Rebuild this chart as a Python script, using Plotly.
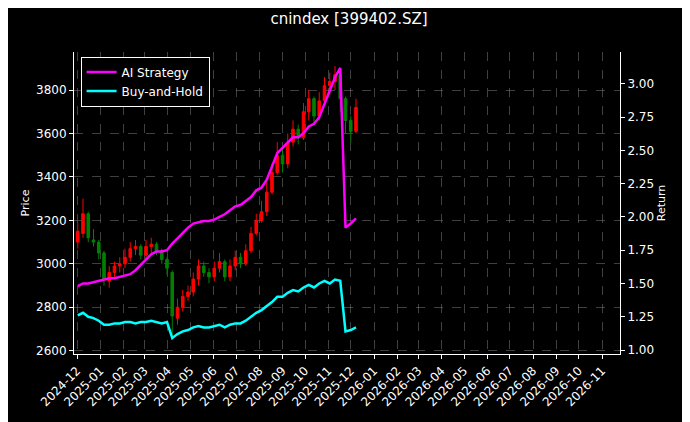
import pandas as pd
import plotly.graph_objects as go

# Weekly bars
dates = pd.date_range("2024-12-02", "2025-12-08", freq="7D")

close = [3150, 3230, 3120, 3100, 3050,
         2930, 2960, 2990, 3000,
         3030, 3070, 3080, 3040,
         3080, 3090, 3060, 3020, 2980,
         2760, 2800, 2850, 2870,
         2930, 2990, 2960, 2940,
         2980, 3010, 2940, 2990, 3030,
         3000, 3060, 3140, 3200,
         3240, 3330, 3420, 3500,
         3460, 3560, 3620, 3580, 3700,
         3760, 3680, 3750, 3820,
         3840, 3870, 3760, 3660,
         3610, 3720]
open_ = [3100, 3140, 3230, 3110, 3100,
         3050, 2920, 2960, 2990,
         3000, 3030, 3070, 3080,
         3040, 3080, 3090, 3060, 3020,
         2960, 2750, 2800, 2850,
         2870, 2930, 2990, 2960,
         2940, 2980, 3010, 2940, 2990,
         3030, 3000, 3060, 3140,
         3200, 3240, 3330, 3420,
         3500, 3460, 3560, 3620, 3580,
         3700, 3760, 3680, 3750,
         3820, 3840, 3870, 3760,
         3660, 3610]
high = [3190, 3300, 3240, 3160, 3110,
        3060, 2990, 3010, 3030,
        3070, 3100, 3110, 3090,
        3110, 3120, 3100, 3070, 3030,
        2970, 2840, 2880, 2900,
        2960, 3020, 3010, 2980,
        3010, 3050, 3020, 3020, 3060,
        3050, 3090, 3170, 3230,
        3290, 3380, 3460, 3560,
        3530, 3600, 3660, 3640, 3740,
        3800, 3770, 3790, 3860,
        3880, 3910, 3880, 3770,
        3680, 3760]
low = [3070, 3120, 3100, 3080, 3020,
       2900, 2890, 2940, 2960,
       2980, 3010, 3040, 3020,
       3020, 3050, 3040, 3000, 2950,
       2650, 2720, 2780, 2830,
       2850, 2900, 2940, 2910,
       2920, 2960, 2920, 2920, 2970,
       2980, 2990, 3050, 3130,
       3190, 3220, 3320, 3410,
       3420, 3440, 3540, 3550, 3570,
       3660, 3650, 3660, 3730,
       3780, 3800, 3700, 3600,
       3560, 3600]

ai_return = [1.48, 1.50, 1.50, 1.51, 1.52,
             1.53, 1.54, 1.54, 1.55,
             1.56, 1.57, 1.60, 1.64,
             1.68, 1.72, 1.74, 1.74, 1.75,
             1.80, 1.84, 1.88, 1.92,
             1.95, 1.96, 1.97, 1.97,
             1.98, 2.00, 2.02, 2.05, 2.08,
             2.09, 2.12, 2.15, 2.20,
             2.22, 2.28, 2.38, 2.48,
             2.52, 2.56, 2.60, 2.60, 2.63,
             2.68, 2.70, 2.75, 2.85,
             2.95, 3.05, 3.12, 1.92,
             1.95, 1.99]
bh_return = [1.26, 1.28, 1.25, 1.24, 1.22,
             1.19, 1.19, 1.20, 1.20,
             1.21, 1.21, 1.20, 1.21,
             1.21, 1.22, 1.21, 1.20, 1.21,
             1.09, 1.12, 1.14, 1.15,
             1.17, 1.18, 1.17, 1.17,
             1.18, 1.19, 1.17, 1.19, 1.20,
             1.20, 1.22, 1.25, 1.28,
             1.30, 1.33, 1.36, 1.40,
             1.40, 1.43, 1.45, 1.44, 1.47,
             1.49, 1.47, 1.50, 1.52,
             1.50, 1.53, 1.52, 1.14,
             1.15, 1.17]

month_ticks = pd.date_range("2024-12-01", "2026-11-01", freq="MS")

fig = go.Figure()

fig.add_trace(go.Candlestick(
    x=dates, open=open_, high=high, low=low, close=close,
    increasing=dict(line=dict(color='red', width=1), fillcolor='red'),
    decreasing=dict(line=dict(color='green', width=1), fillcolor='green'),
    whiskerwidth=0, showlegend=False, name="Price"
))

fig.add_trace(go.Scatter(
    x=dates, y=ai_return, name="AI Strategy", yaxis="y2",
    mode='lines', line=dict(color='magenta', width=2.5)
))
fig.add_trace(go.Scatter(
    x=dates, y=bh_return, name="Buy-and-Hold", yaxis="y2",
    mode='lines', line=dict(color='cyan', width=2.5)
))

grid = dict(showgrid=True, gridcolor='rgba(128,128,128,0.5)', griddash='dash',
            gridwidth=0.5, zeroline=False, showline=True, linecolor='white',
            mirror=False, ticks='outside', tickcolor='white', ticklen=4,
            automargin=False, tickfont=dict(size=12))

fig.update_layout(
    width=682, height=414,
    title=dict(text="cnindex [399402.SZ]", x=0.5, y=0.973, xanchor='center',
               yanchor='middle', font=dict(size=15, color='white')),
    paper_bgcolor='black', plot_bgcolor='black',
    font=dict(family="DejaVu Sans", color='white', size=12),
    margin=dict(l=66, r=70, t=44, b=68),
    xaxis=dict(**grid, range=["2024-11-27", "2026-11-25"], tickvals=month_ticks,
               ticktext=[d.strftime("%Y-%m") for d in month_ticks], tickangle=-45,
               rangeslider=dict(visible=False)),
    yaxis=dict(**grid, title=dict(text="Price", standoff=4, font=dict(size=11)),
               range=[2585, 3975], dtick=200),
    yaxis2=dict(title=dict(text="Return", standoff=4, font=dict(size=11)),
                overlaying="y", side="right",
                range=[0.97, 3.24], dtick=0.25, tickformat=".2f", showgrid=False,
                zeroline=False, showline=True, linecolor='white', ticks='outside',
                tickcolor='white', ticklen=4, automargin=False,
                tickfont=dict(size=12)),
    legend=dict(x=0.012, y=0.985, xanchor='left', yanchor='top',
                bgcolor='black', bordercolor='white', borderwidth=1,
                font=dict(size=12, color='white')),
)

fig.write_html("out.html")
